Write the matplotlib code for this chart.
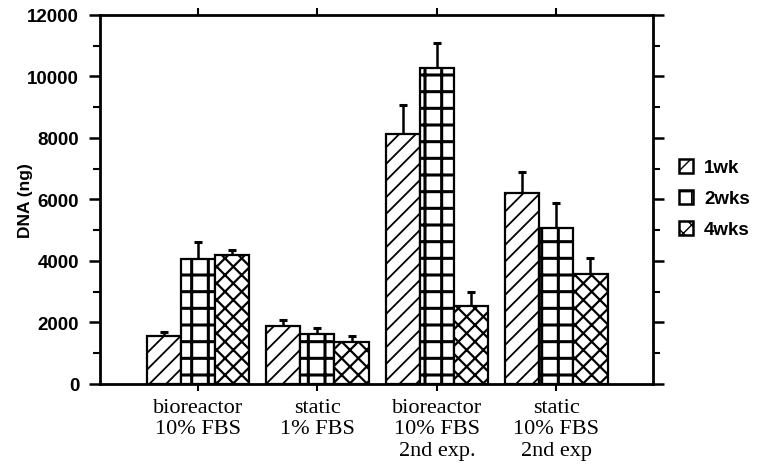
import matplotlib
matplotlib.use("Agg")
import matplotlib.pyplot as plt
from matplotlib.patches import Patch
from matplotlib.ticker import MultipleLocator
import numpy as np

# Culture conditions and DNA content (ng) per time point
categories = ["bioreactor\n10% FBS", "static\n1% FBS",
              "bioreactor\n10% FBS\n2nd exp.", "static\n10% FBS\n2nd exp"]
series_names = ["1wk", "2wks", "4wks"]
dna_1wk = [1570, 1880, 8130, 6210]
dna_2wks = [4080, 1630, 10270, 5060]
dna_4wks = [4200, 1360, 2550, 3580]
err_1wk = [130, 210, 940, 670]
err_2wks = [540, 195, 810, 820]
err_4wks = [170, 215, 440, 510]
y_ticks = [0, 2000, 4000, 6000, 8000, 10000, 12000]

values = [dna_1wk, dna_2wks, dna_4wks]
errors = [err_1wk, err_2wks, err_4wks]
bar_hatches = ["//", "+", "xx"]
hatch_lw = [1.3, 2.2, 1.6]

fig = plt.figure(figsize=(7.74, 4.77), dpi=100)
ax = fig.add_axes([0.1292, 0.1929, 0.7145, 0.7736])

x = np.arange(len(categories))
w = 0.286
for k, (vals, errs) in enumerate(zip(values, errors)):
    with plt.rc_context({"hatch.linewidth": hatch_lw[k], "hatch.color": "black"}):
        bars = ax.bar(x + (k - 1) * w, vals, width=w, facecolor="white",
                      edgecolor="black", linewidth=1.6, hatch=bar_hatches[k],
                      zorder=2)
        for b in bars:
            if hasattr(b, "set_hatch_linewidth"):
                b.set_hatch_linewidth(hatch_lw[k])
    ax.errorbar(x + (k - 1) * w, vals, yerr=[np.zeros(len(errs)), errs],
                fmt="none", ecolor="black", elinewidth=1.8, capsize=3,
                capthick=2.2, zorder=1)

ax.set_xlim(-0.82, 3.81)
ax.set_ylim(0, 12000)
ax.set_yticks(y_ticks)
ax.yaxis.set_minor_locator(MultipleLocator(1000))
ax.set_yticklabels([str(t) for t in y_ticks], fontfamily="Liberation Sans",
                   fontsize=13.5, fontweight="bold")
ax.set_xticks(x)
ax.set_xticklabels(categories, fontfamily="Liberation Serif", fontsize=16,
                   linespacing=1.17, va="top")

ax.tick_params(axis="y", which="major", direction="out", length=8, width=1.8,
               left=True, right=True, labelright=False, pad=7)
ax.tick_params(axis="y", which="minor", direction="out", length=5, width=1.5,
               left=True, right=True)
ax.tick_params(axis="x", which="major", direction="out", length=5, width=1.5,
               top=True, bottom=True, pad=5)
for s in ax.spines.values():
    s.set_linewidth(2)

ax.set_ylabel("DNA (ng)", fontfamily="Liberation Sans", fontsize=12.5,
              fontweight="bold")
ax.yaxis.set_label_coords(-0.122, 0.5)

handles = []
for k, name in enumerate(series_names):
    with plt.rc_context({"hatch.linewidth": 1.5}):
        p = Patch(facecolor="white", edgecolor="black", linewidth=1.8,
                  hatch=bar_hatches[k], label=name)
    handles.append(p)
fig.legend(handles=handles, loc="upper left", bbox_to_anchor=(0.855, 0.70),
           frameon=False, prop={"family": "Liberation Sans", "size": 13.5,
                                "weight": "bold"},
           handlelength=0.75, handleheight=0.75, handletextpad=0.6,
           labelspacing=0.72)

fig.savefig("out.png", dpi=100)
